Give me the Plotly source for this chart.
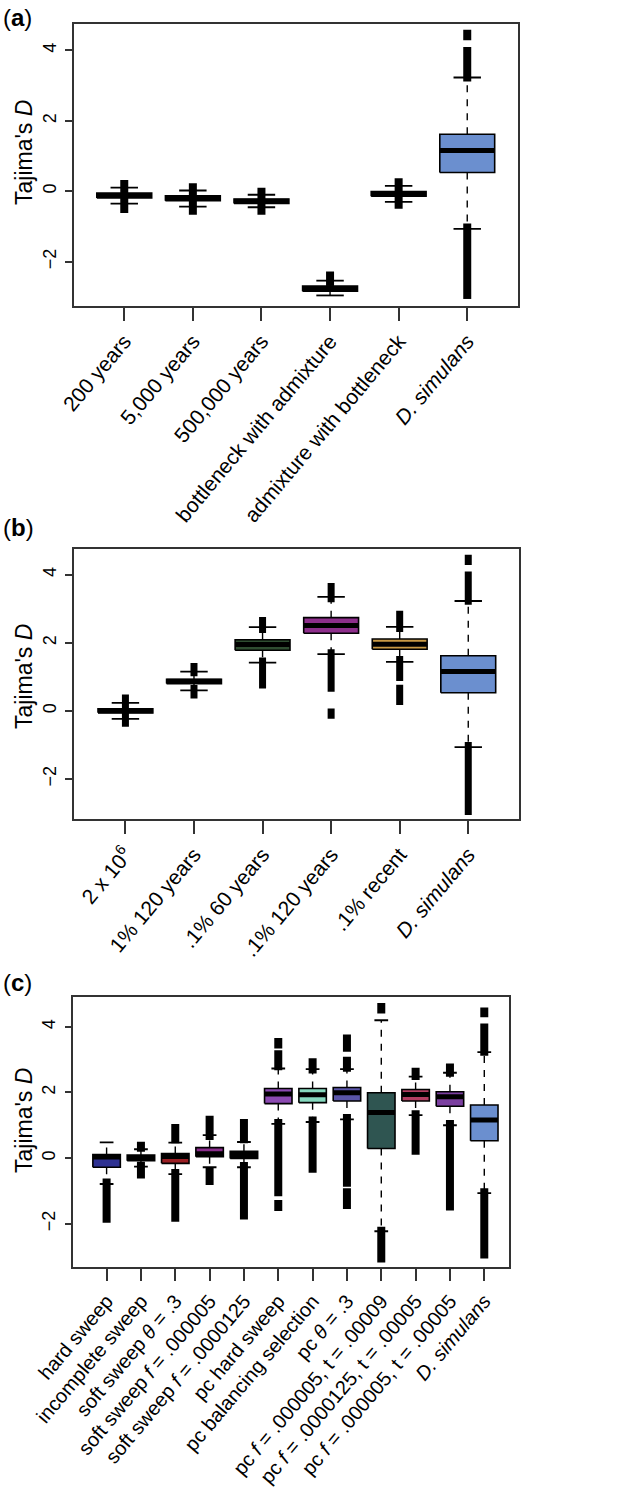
import plotly.graph_objects as go

W, H = 633, 1498

# ---------------- data ----------------
# shared D. simulans distribution
DSIM = dict(q1=0.53, med=1.16, q3=1.62, wlo=-1.07, whi=3.23,
            out=[(3.12, 4.10), (4.29, 4.59), (-3.06, -0.92)])

A_LABELS = ["200 years", "5,000 years", "500,000 years",
            "bottleneck with admixture", "admixture with bottleneck",
            "<i>D. simulans</i>"]
A_Q1 = [-0.19, -0.27, -0.35, -2.84, -0.14, DSIM["q1"]]
A_MED = [-0.12, -0.20, -0.285, -2.765, -0.075, DSIM["med"]]
A_Q3 = [-0.05, -0.13, -0.22, -2.69, -0.01, DSIM["q3"]]
A_WLO = [-0.35, -0.435, -0.455, -2.96, -0.30, DSIM["wlo"]]
A_WHI = [0.10, 0.02, -0.10, -2.54, 0.15, DSIM["whi"]]
A_OUT = [[(-0.05, 0.32), (-0.62, -0.19)],
         [(-0.13, 0.23), (-0.67, -0.27)],
         [(-0.22, 0.10), (-0.67, -0.35)],
         [(-2.69, -2.28)],
         [(-0.01, 0.37), (-0.50, -0.14)],
         DSIM["out"]]

B_LABELS = ["2 x 10<sup>6</sup>", "1% 120 years", ".1% 60 years",
            ".1% 120 years", ".1% recent", "<i>D. simulans</i>"]
B_Q1 = [-0.06, 0.80, 1.78, 2.28, 1.81, DSIM["q1"]]
B_MED = [0.0, 0.87, 1.95, 2.51, 1.96, DSIM["med"]]
B_Q3 = [0.06, 0.93, 2.09, 2.74, 2.11, DSIM["q3"]]
B_WLO = [-0.235, 0.60, 1.42, 1.67, 1.44, DSIM["wlo"]]
B_WHI = [0.235, 1.15, 2.46, 3.35, 2.47, DSIM["whi"]]
B_OUT = [[(0.06, 0.48), (-0.47, -0.06)],
         [(1.02, 1.41), (0.36, 0.76)],
         [(2.29, 2.76), (0.66, 1.57)],
         [(3.19, 3.76), (0.56, 1.81), (-0.23, 0.07)],
         [(2.32, 2.94), (0.88, 1.61), (0.17, 0.77)],
         DSIM["out"]]

C_LABELS = ["hard sweep", "incomplete sweep", "soft sweep <i>θ</i> = .3",
            "soft sweep <i>f</i> = .000005", "soft sweep <i>f</i> = .0000125",
            "pc hard sweep", "pc balancing selection", "pc <i>θ</i> = .3",
            "pc <i>f</i> = .000005, t = .00009",
            "pc <i>f</i> = .0000125, t = .00005",
            "pc <i>f</i> = .000005, t = .00005", "<i>D. simulans</i>"]
C_Q1 = [-0.28, -0.08, -0.16, 0.04, -0.01, 1.66, 1.69, 1.74, 0.29, 1.74, 1.58, DSIM["q1"]]
C_MED = [0.03, 0.0, 0.05, 0.13, 0.10, 1.95, 1.93, 1.99, 1.39, 1.94, 1.87, DSIM["med"]]
C_Q3 = [0.11, 0.09, 0.14, 0.32, 0.21, 2.12, 2.12, 2.15, 1.99, 2.09, 2.02, DSIM["q3"]]
C_WLO = [-0.79, -0.26, -0.49, -0.28, -0.28, 1.04, 1.10, 1.18, -2.23, 1.31, 1.00, DSIM["wlo"]]
C_WHI = [0.48, 0.27, 0.47, 0.70, 0.49, 2.73, 2.71, 2.71, 4.20, 2.48, 2.60, DSIM["whi"]]
C_OUT = [[(-1.97, -0.62)],
         [(0.19, 0.50), (-0.62, -0.11)],
         [(0.45, 1.04), (-1.94, -0.33)],
         [(0.55, 1.29), (-0.82, -0.30)],
         [(0.45, 1.19), (-1.87, -0.12)],
         [(2.68, 3.29), (3.34, 3.66), (-1.16, 1.19), (-1.61, -1.28)],
         [(2.58, 3.04), (-0.45, 1.27)],
         [(2.63, 3.09), (3.24, 3.77), (-0.87, 1.34), (-1.55, -0.92)],
         [(4.41, 4.73), (-3.18, -2.09)],
         [(2.38, 2.75), (0.10, 1.46)],
         [(2.48, 2.88), (-1.60, 1.16)],
         DSIM["out"]]

Y_TICKS = [-2, 0, 2, 4]
Y_TICKTEXT = ["−2", "0", "2", "4"]

# ---------------- styles ----------------
DSIM_COL = "#6b8fcf"
A_COLORS = ["black", "black", "black", "black", "black", DSIM_COL]
B_COLORS = ["black", "black", "#2f4d31", "#8e2f8c", "#c99a45", DSIM_COL]
C_COLORS = ["#2e3192", "black", "#9b1f24", "#8a2d8c", "black", "#8c4ab2",
            "#86d9bf", "#5a55a8", "#2f5551", "#b23e62", "#7b3fa0", DSIM_COL]

FONT = "Liberation Sans, Arial, Helvetica, sans-serif"

# pixel layout of each panel: (left, right, top, bottom)
PANELS = [
    dict(px=(73.5, 518, 24, 306), yr=(-3.26, 4.75), xr=(0.26, 6.74), bar=8,
         labels=A_LABELS, q1=A_Q1, med=A_MED, q3=A_Q3, wlo=A_WLO, whi=A_WHI,
         out=A_OUT, colors=A_COLORS, tag="a", tag_y=17, title_y=153, lfs=21),
    dict(px=(74, 519, 549.3, 819.3), yr=(-3.19, 4.75), xr=(0.25, 6.74), bar=7,
         labels=B_LABELS, q1=B_Q1, med=B_MED, q3=B_Q3, wlo=B_WLO, whi=B_WHI,
         out=B_OUT, colors=B_COLORS, tag="b", tag_y=527, title_y=677, lfs=21),
    dict(px=(73.3, 509, 997.3, 1266.7), yr=(-3.31, 4.9), xr=(0.03, 12.72), bar=8,
         labels=C_LABELS, q1=C_Q1, med=C_MED, q3=C_Q3, wlo=C_WLO, whi=C_WHI,
         out=C_OUT, colors=C_COLORS, tag="c", tag_y=982, title_y=1121, lfs=20),
]

fig = go.Figure()
annotations = []

for k, p in enumerate(PANELS):
    sfx = "" if k == 0 else str(k + 1)
    xa, ya = "x" + sfx, "y" + sfx
    n = len(p["labels"])
    xs = list(range(1, n + 1))
    bw, cw = 0.4, 0.2  # half widths of box and staple

    # whiskers (dashed)
    wx, wy = [], []
    for i in range(n):
        wx += [xs[i], xs[i], None, xs[i], xs[i], None]
        wy += [p["q3"][i], p["whi"][i], None, p["q1"][i], p["wlo"][i], None]
    fig.add_trace(go.Scatter(x=wx, y=wy, mode="lines", xaxis=xa, yaxis=ya,
                             line=dict(color="black", width=1.4, dash="7px,7px"),
                             hoverinfo="skip", showlegend=False))
    # staples
    sx, sy = [], []
    for i in range(n):
        for v in (p["whi"][i], p["wlo"][i]):
            sx += [xs[i] - cw, xs[i] + cw, None]
            sy += [v, v, None]
    fig.add_trace(go.Scatter(x=sx, y=sy, mode="lines", xaxis=xa, yaxis=ya,
                             line=dict(color="black", width=1.8),
                             hoverinfo="skip", showlegend=False))
    # boxes
    for i in range(n):
        fig.add_trace(go.Scatter(
            x=[xs[i] - bw, xs[i] + bw, xs[i] + bw, xs[i] - bw, xs[i] - bw],
            y=[p["q1"][i], p["q1"][i], p["q3"][i], p["q3"][i], p["q1"][i]],
            mode="lines", fill="toself", fillcolor=p["colors"][i],
            line=dict(color="black", width=1.6), xaxis=xa, yaxis=ya,
            hoverinfo="skip", showlegend=False))
    # medians
    mx, my = [], []
    for i in range(n):
        mx += [xs[i] - bw, xs[i] + bw, None]
        my += [p["med"][i], p["med"][i], None]
    fig.add_trace(go.Scatter(x=mx, y=my, mode="lines", xaxis=xa, yaxis=ya,
                             line=dict(color="black", width=5),
                             hoverinfo="skip", showlegend=False))
    # outliers (dense runs drawn as thick bars)
    ox, oy = [], []
    for i in range(n):
        for lo, hi in p["out"][i]:
            ox += [xs[i], xs[i], None]
            oy += [lo, hi, None]
    fig.add_trace(go.Scatter(x=ox, y=oy, mode="lines", xaxis=xa, yaxis=ya,
                             line=dict(color="black", width=p["bar"]),
                             hoverinfo="skip", showlegend=False))

    l, r, t, b = p["px"]
    axis_common = dict(showline=True, mirror=True, linecolor="#333", linewidth=1.5,
                       showgrid=False, zeroline=False, ticks="outside",
                       tickcolor="#333", tickwidth=1.5, automargin=False)
    fig.update_layout({
        "xaxis" + sfx: dict(axis_common, domain=[l / W, r / W], anchor=ya,
                            range=list(p["xr"]), tickvals=xs, ticktext=p["labels"],
                            ticklen=13, tickangle=-50,
                            tickfont=dict(family=FONT, size=p["lfs"], color="black")),
        "yaxis" + sfx: dict(axis_common, domain=[1 - b / H, 1 - t / H], anchor=xa,
                            range=list(p["yr"]), tickvals=Y_TICKS, ticktext=Y_TICKTEXT,
                            ticklen=7, tickangle=-90, ticklabelstandoff=2,
                            tickfont=dict(family=FONT, size=18, color="black")),
    })
    annotations.append(dict(text="(<b>%s</b>)" % p["tag"], xref="paper", yref="paper",
                            x=1 / W, y=1 - p["tag_y"] / H, xanchor="left", yanchor="middle",
                            showarrow=False, font=dict(family=FONT, size=24, color="black")))
    annotations.append(dict(text="Tajima's <i>D</i>", xref="paper", yref="paper",
                            x=24 / W, y=1 - p["title_y"] / H, xanchor="center",
                            yanchor="middle", textangle=-90, showarrow=False,
                            font=dict(family=FONT, size=23, color="black")))

fig.update_layout(width=W, height=H, margin=dict(l=0, r=0, t=0, b=0),
                  paper_bgcolor="white", plot_bgcolor="white",
                  annotations=annotations, showlegend=False)

fig.write_html("out.html", config={"displayModeBar": False},
               post_script="document.body.style.margin='0';")
